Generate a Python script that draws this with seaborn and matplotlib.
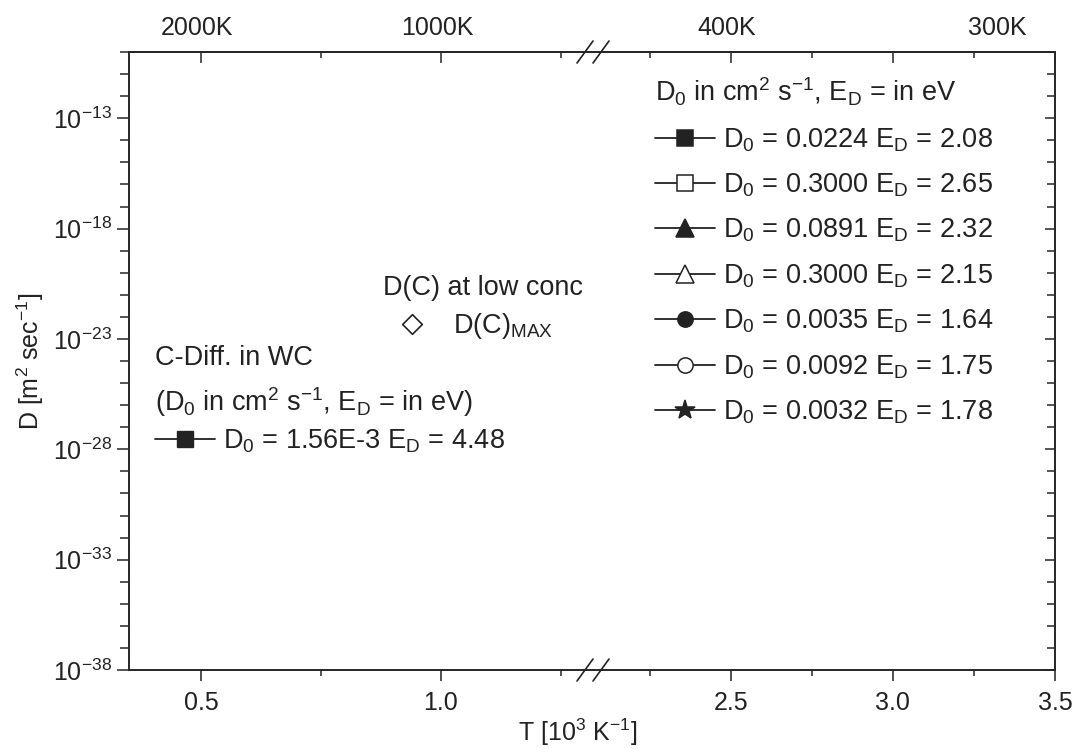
import matplotlib
matplotlib.use("Agg")
import numpy as np
import matplotlib.pyplot as plt
from matplotlib.lines import Line2D
from matplotlib.ticker import NullFormatter
import seaborn as sns

# ---- data ----
x_major_left = [0.5, 1.0]
x_minor_left = [0.75, 1.25]
x_major_right = [2.5, 3.0, 3.5]
x_minor_right = [2.25, 2.75, 3.25]
y_label_exps = [-38, -33, -28, -23, -18, -13]
y_all_exps = list(range(-38, -9))
temps_K = [2000, 1000, 400, 300]

# D(C)_MAX point (1/T in 10^3 K^-1, D in m^2/s)
dcmax_x = [0.94]
dcmax_y = [4.8e-23]

# right legend: D0 (cm^2/s) and ED (eV)
d0_vals = [0.0224, 0.3000, 0.0891, 0.3000, 0.0035, 0.0092, 0.0032]
ed_vals = [2.08, 2.65, 2.32, 2.15, 1.64, 1.75, 1.78]
mk_shapes = ['s', 's', '^', '^', 'o', 'o', '*']
mk_filled = [True, False, True, False, True, False, True]

# C diffusion in WC
wc_d0 = "1.56E-3"
wc_ed = 4.48

# ---- style ----
sns.set_style("ticks")
plt.rcParams['font.family'] = ['Liberation Sans', 'DejaVu Sans']
plt.rcParams['mathtext.fontset'] = 'custom'
plt.rcParams['mathtext.rm'] = 'Liberation Sans'
plt.rcParams['mathtext.it'] = 'Liberation Sans:italic'
plt.rcParams['mathtext.bf'] = 'Liberation Sans:bold'
plt.rcParams['mathtext.sf'] = 'Liberation Sans'
plt.rcParams['axes.linewidth'] = 1.4

INK = '#222222'
TICK_FS = 18
TXT_FS = 19.5

W, H = 1078, 749
fig = plt.figure(figsize=(W / 100, H / 100), dpi=100)


def fx(x):
    return x / W


def fy(y):
    return 1 - y / H


L, XB, R = 129, 593, 1055
T, B = 52, 670
ax1 = fig.add_axes([fx(L), fy(B), (XB - L) / W, (B - T) / H])
ax2 = fig.add_axes([fx(XB), fy(B), (R - XB) / W, (B - T) / H])

ax1.set_xlim(0.35, 1.3167)
ax2.set_xlim(2.075, 3.5)

for ax, maj, mnr in [(ax1, x_major_left, x_minor_left), (ax2, x_major_right, x_minor_right)]:
    ax.set_yscale('log')
    ax.set_ylim(1e-38, 1e-10)
    ax.set_xticks(maj)
    ax.set_xticklabels([f"{v:.1f}" for v in maj])
    ax.set_xticks(mnr, minor=True)
    ax.tick_params(axis='x', which='major', direction='out', length=8, width=1.1,
                   labelsize=TICK_FS, pad=7, color=INK, labelcolor=INK)
    ax.tick_params(axis='x', which='minor', direction='out', length=4.5, width=1.1)
    top = ax.secondary_xaxis('top')
    top.set_xticks(maj)
    top.set_xticklabels([])
    top.set_xticks(mnr, minor=True)
    top.tick_params(which='major', direction='in', length=8, width=1.1, labeltop=False)
    top.tick_params(which='minor', direction='in', length=4.5, width=1.1)
    ax.set_yticks([10.0 ** e for e in y_label_exps])
    ax.set_yticks([10.0 ** e for e in y_all_exps if e not in y_label_exps], minor=True)
    ax.yaxis.set_minor_formatter(NullFormatter())

ax1.set_yticklabels([f"10$^{{{e}}}$" for e in y_label_exps])
ax1.spines['right'].set_visible(False)
ax1.tick_params(axis='y', which='both', left=True, right=False, direction='out',
                labelsize=TICK_FS, labelcolor=INK)
ax1.tick_params(axis='y', which='major', length=8.5, width=1.1, pad=4)
ax1.tick_params(axis='y', which='minor', length=6.5, width=1.1)

ax2.spines['left'].set_visible(False)
ax2.tick_params(axis='y', which='both', left=False, right=True, labelleft=False,
                labelright=False, direction='in')
ax2.tick_params(axis='y', which='major', length=7, width=1.1)
ax2.tick_params(axis='y', which='minor', length=6, width=1.1)

# break marks on both x axes
for xc in [585, 601]:
    for yc in [T, B]:
        fig.add_artist(Line2D([fx(xc - 8), fx(xc + 8)], [fy(yc + 11), fy(yc - 11)],
                              transform=fig.transFigure, color=INK, lw=1.2))

# temperature labels on top
for tk in temps_K:
    xv = 1000.0 / tk
    ax = ax1 if xv < 1.3167 else ax2
    ax.annotate(f"{tk}K", xy=(xv, 1), xycoords=('data', 'axes fraction'),
                xytext=(-4, 24), textcoords='offset pixels', ha='center', va='center',
                fontsize=TICK_FS, color=INK)

# D(C)_MAX point
sns.scatterplot(x=dcmax_x, y=dcmax_y, marker='D', s=100, color='white', edgecolor=INK,
                linewidth=1.2, ax=ax1, zorder=5, legend=False)
ax1.annotate("D(C) at low conc", xy=(dcmax_x[0], dcmax_y[0]), xytext=(-29, 29),
             textcoords='offset pixels', ha='left', va='baseline', fontsize=TXT_FS, color=INK)
ax1.annotate("D(C)$_{\\mathrm{MAX}}$", xy=(dcmax_x[0], dcmax_y[0]), xytext=(41, -9),
             textcoords='offset pixels', ha='left', va='baseline', fontsize=TXT_FS, color=INK)

# right legend
handles = []
labels = []
for d0, ed, m, f in zip(d0_vals, ed_vals, mk_shapes, mk_filled):
    ms = 15 if m == '*' else (12.5 if m == '^' else 11)
    handles.append(Line2D([], [], color=INK, lw=1.3, marker=m, markersize=ms,
                          markerfacecolor=INK if f else 'white',
                          markeredgecolor=INK, markeredgewidth=1.1))
    labels.append(f"D$_0$ = {d0:.4f} E$_\\mathrm{{D}}$ = {ed:.2f}")
leg = ax2.legend(handles, labels, title="D$_0$ in cm$^2$ s$^{-1}$, E$_\\mathrm{D}$ = in eV",
                 loc='upper left', bbox_to_anchor=(fx(655), fy(76)), bbox_transform=fig.transFigure,
                 frameon=False, fontsize=TXT_FS, title_fontsize=TXT_FS, borderpad=0,
                 borderaxespad=0, handlelength=2.2, handletextpad=0.3, labelspacing=0.66,
                 alignment='left')
for t in leg.get_texts():
    t.set_color(INK)
leg.get_title().set_color(INK)

# left legend (C diffusion in WC)
h_wc = [Line2D([], [], color=INK, lw=1.3, marker='s', markersize=11.5,
               markerfacecolor=INK, markeredgecolor=INK)]
l_wc = [f"D$_0$ = {wc_d0} E$_\\mathrm{{D}}$ = {wc_ed:.2f}"]
leg2 = ax1.legend(h_wc, l_wc,
                  title="C-Diff. in WC\n(D$_0$ in cm$^2$ s$^{-1}$, E$_\\mathrm{D}$ = in eV)",
                  loc='upper left', bbox_to_anchor=(fx(155), fy(345)), bbox_transform=fig.transFigure,
                  frameon=False, fontsize=TXT_FS, title_fontsize=TXT_FS, borderpad=0,
                  borderaxespad=0, handlelength=2.2, handletextpad=0.3, labelspacing=0.3,
                  alignment='left')
leg2.get_title().set_linespacing(1.55)
leg2.get_title().set_color(INK)
leg2.get_texts()[0].set_color(INK)

fig.text(fx(578), fy(732), "T [10$^3$ K$^{-1}$]", ha='center', va='center', fontsize=TICK_FS,
         color=INK)
fig.text(fx(30), fy(361), "D [m$^2$ sec$^{-1}$]", ha='center', va='center', rotation=90,
         fontsize=TICK_FS, color=INK)

fig.savefig("out.png", dpi=100, facecolor='white')
